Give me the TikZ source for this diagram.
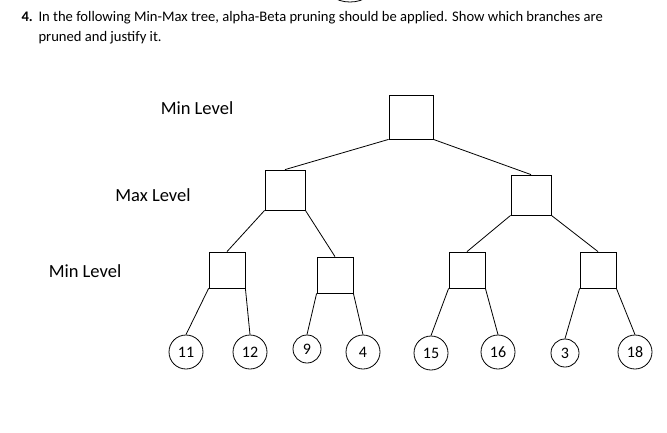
\documentclass[tikz,border=0pt]{standalone}
\usepackage{fontspec}
\setmainfont{Carlito}
\begin{document}
\begin{tikzpicture}[x=1pt,y=-1pt,
  sq/.style={draw,thick,minimum size=#1,inner sep=0},
  lf/.style={draw,circle,thick,minimum size=34,inner sep=0,font=\fontsize{16}{18}\selectfont},
  lbl/.style={font=\fontsize{18.5}{20}\selectfont},
  ed/.style={draw,thick}]
\useasboundingbox (0,0) rectangle (667,432);
\draw[thick] (332,-4) .. controls (340,4) and (360,4) .. (368,-4);
\node[anchor=base west,font=\fontsize{14.6}{17}\selectfont\bfseries] (num) at (18,21) {4.};
\node[anchor=base west,font=\fontsize{14.6}{17}\selectfont] (t1) at (35,21) {In the following Min-Max tree, alpha-Beta pruning should be applied. Show which branches are};
\node[anchor=base west,font=\fontsize{14.6}{17}\selectfont] (t2) at (35,41) {pruned and justify it.};
\node[lbl] (l1) at (197,108) {Min Level};
\node[lbl] (l2) at (153,195) {Max Level};
\node[lbl] (l3) at (85,271) {Min Level};
\node[sq=44] (r) at (411,117) {};
\node[sq=40] (a) at (285,190) {};
\node[sq=40] (b) at (531,195) {};
\node[sq=36] (a1) at (227,270) {};
\node[sq=36] (a2) at (335,275) {};
\node[sq=36] (b1) at (467,270) {};
\node[sq=36] (b2) at (598,270) {};
\node[lf] (n1) at (186,352) {11};
\node[lf] (n2) at (250,352) {12};
\node[lf,minimum size=28] (n3) at (307,349) {9};
\node[lf] (n4) at (363,352) {4};
\node[lf] (n5) at (431,353) {15};
\node[lf] (n6) at (498,352) {16};
\node[lf,minimum size=28] (n7) at (565,353) {3};
\node[lf] (n8) at (635,352) {18};
\draw[ed] (r.south west) -- (a.north);
\draw[ed] (r.south east) -- (b.north);
\draw[ed] (a.south west) -- (a1.north);
\draw[ed] (a.south east) -- (a2.north);
\draw[ed] (b.south west) -- (b1.north);
\draw[ed] (b.south east) -- (b2.north);
\draw[ed] (a1.south west) -- (n1.north);
\draw[ed] (a1.south east) -- (n2.north);
\draw[ed] (a2.south west) -- (n3.north);
\draw[ed] (a2.south east) -- (n4.north);
\draw[ed] (b1.south west) -- (n5.north);
\draw[ed] (b1.south east) -- (n6.north);
\draw[ed] (b2.south west) -- (n7.north);
\draw[ed] (b2.south east) -- (n8.north);
\end{tikzpicture}
\end{document}
